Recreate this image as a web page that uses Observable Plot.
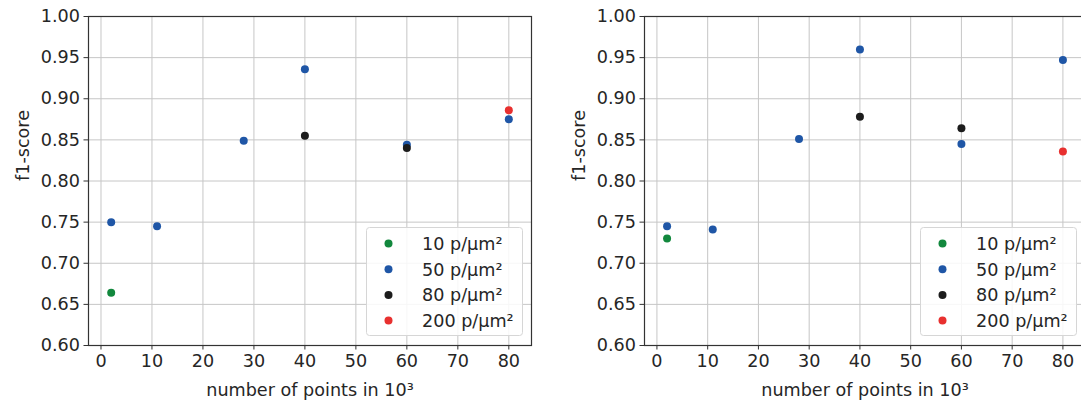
<!DOCTYPE html>
<html>
<head>
<meta charset="utf-8">
<script src="https://cdn.jsdelivr.net/npm/d3@7"></script>
<script src="https://cdn.jsdelivr.net/npm/@observablehq/plot@0.6"></script>
<style>
  html, body { margin: 0; padding: 0; background: #fff; }
  #wrap { position: relative; width: 1081px; height: 403px; overflow: hidden; background: #fff; }
  .panel { position: absolute; top: 0; }
  .panel svg { max-width: none !important; }
  .legend { position: absolute; }
</style>
</head>
<body>
<div id="wrap"></div>
<script>
// Point densities and their marker colours
const densityLabels = ["10 p/µm²", "50 p/µm²", "80 p/µm²", "200 p/µm²"];
const densityColors = ["#12883d", "#1f56a6", "#1c1c1c", "#e8302f"];

// Axis ticks
const xTicks = [0, 10, 20, 30, 40, 50, 60, 70, 80];
const yTicks = [0.60, 0.65, 0.70, 0.75, 0.80, 0.85, 0.90, 0.95, 1.00];
const xLabel = "number of points in 10³";
const yLabel = "f1-score";

// Left panel: number of points (10³) and f1-score per density
const leftX10 = [2];
const leftY10 = [0.664];
const leftX50 = [2, 11, 28, 40, 60, 80];
const leftY50 = [0.750, 0.745, 0.849, 0.936, 0.844, 0.875];
const leftX80 = [40, 60];
const leftY80 = [0.855, 0.840];
const leftX200 = [80];
const leftY200 = [0.886];

// Right panel
const rightX10 = [2];
const rightY10 = [0.730];
const rightX50 = [2, 11, 28, 40, 60, 80];
const rightY50 = [0.745, 0.741, 0.851, 0.960, 0.845, 0.947];
const rightX80 = [40, 60];
const rightY80 = [0.878, 0.864];
const rightX200 = [80];
const rightY200 = [0.836];

function series(xs, ys, k) {
  return xs.map((x, i) => ({x, y: ys[i], density: densityLabels[k]}));
}

const leftData = [
  ...series(leftX10, leftY10, 0),
  ...series(leftX50, leftY50, 1),
  ...series(leftX80, leftY80, 2),
  ...series(leftX200, leftY200, 3)
];
const rightData = [
  ...series(rightX10, rightY10, 0),
  ...series(rightX50, rightY50, 1),
  ...series(rightX80, rightY80, 2),
  ...series(rightX200, rightY200, 3)
];

const FONT = "'DejaVu Sans', sans-serif";
const FS = 17.6;
const TEXT = "#262626";

function panel(data, {left, width, marginLeft, marginRight}) {
  const chart = Plot.plot({
    width,
    height: 403,
    marginLeft,
    marginRight,
    marginTop: 16,
    marginBottom: 58,
    style: {fontFamily: FONT, fontSize: FS + "px", color: TEXT, background: "transparent", overflow: "visible", maxWidth: "none"},
    x: {domain: [-2.45, 84.45]},
    y: {domain: [0.6, 1.0]},
    color: {domain: densityLabels, range: densityColors},
    marks: [
      Plot.gridX(xTicks, {stroke: "#c6c6c6", strokeOpacity: 1, strokeWidth: 1}),
      Plot.gridY(yTicks, {stroke: "#c6c6c6", strokeOpacity: 1, strokeWidth: 1}),
      Plot.axisX({ticks: xTicks, tickFormat: d => String(d), tickSize: 4.5, tickPadding: 4, label: null, stroke: "#333", fontSize: FS}),
      Plot.axisY({ticks: yTicks, tickFormat: d3.format(".2f"), tickSize: 4.5, tickPadding: 4, label: null, stroke: "#333", fontSize: FS}),
      Plot.frame({stroke: "#333", strokeWidth: 1.2}),
      Plot.dot(data, {x: "x", y: "y", fill: "density", r: 4, stroke: null}),
      Plot.text([xLabel], {frameAnchor: "bottom", dy: 45, fontSize: FS, fill: TEXT, lineAnchor: "middle"}),
      Plot.text([yLabel], {frameAnchor: "left", dx: -65, rotate: -90, fontSize: FS, fill: TEXT, lineAnchor: "middle"})
    ]
  });
  const div = document.createElement("div");
  div.className = "panel";
  div.style.left = left + "px";
  div.style.width = width + "px";
  div.appendChild(chart);
  document.getElementById("wrap").appendChild(div);
}

// Legend box inside the lower right of each panel
function legend(left, top) {
  const w = 156, h = 108, rowH = 25.7;
  const svg = d3.select("#wrap").append("svg")
    .attr("class", "legend")
    .attr("width", w + 2).attr("height", h + 2)
    .style("left", left + "px").style("top", top + "px")
    .style("font-family", FONT).style("font-size", FS + "px");
  svg.append("rect")
    .attr("x", 0.5).attr("y", 0.5).attr("width", w).attr("height", h)
    .attr("rx", 3).attr("fill", "rgba(255,255,255,0.85)").attr("stroke", "#d6d6d6");
  const rows = svg.selectAll("g").data(densityLabels).join("g")
    .attr("transform", (d, i) => `translate(0,${16.5 + i * rowH})`);
  rows.append("circle").attr("cx", 22.5).attr("cy", 0).attr("r", 4)
    .attr("fill", (d, i) => densityColors[i]);
  rows.append("text").attr("x", 56).attr("y", 0).attr("dy", "0.36em")
    .attr("fill", TEXT).text(d => d);
}

panel(leftData, {left: 0, width: 540, marginLeft: 88, marginRight: 9});
panel(rightData, {left: 540, width: 560, marginLeft: 104, marginRight: 15});
legend(366, 227);
legend(920, 227);
</script>
</body>
</html>
